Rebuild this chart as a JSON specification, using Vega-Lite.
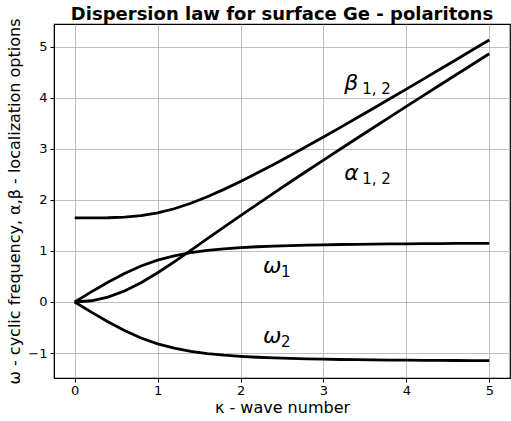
{
  "$schema": "https://vega.github.io/schema/vega-lite/v6.json",
  "width": 456,
  "height": 354,
  "autosize": {"type": "none"},
  "padding": {"left": 54, "top": 24, "right": 1, "bottom": 43},
  "background": "white",
  "title": {
    "text": "Dispersion law for surface Ge - polaritons",
    "font": "DejaVu Sans",
    "fontSize": 18,
    "fontWeight": "bold",
    "color": "black",
    "anchor": "middle",
    "frame": "group",
    "offset": -6
  },
  "config": {
    "view": {"stroke": "black", "strokeWidth": 1.2},
    "axis": {
      "labelFont": "DejaVu Sans",
      "labelFontSize": 13,
      "labelColor": "black",
      "titleFont": "DejaVu Sans",
      "titleFontSize": 16,
      "titleFontWeight": "normal",
      "titleColor": "black",
      "domainColor": "black",
      "tickColor": "black",
      "tickSize": 4,
      "gridColor": "#b0b0b0",
      "gridWidth": 0.8
    }
  },
  "datasets": {
    "curves": [
      {"k": 0.0, "w1": 0.0, "w2": 0.0, "a": 0.0, "b": 1.649},
      {"k": 0.2, "w1": 0.1985, "w2": -0.1985, "a": 0.0243, "b": 1.6494},
      {"k": 0.4, "w1": 0.3881, "w2": -0.3881, "a": 0.0969, "b": 1.6521},
      {"k": 0.6, "w1": 0.5596, "w2": -0.5596, "a": 0.2164, "b": 1.6634},
      {"k": 0.8, "w1": 0.7049, "w2": -0.7049, "a": 0.3782, "b": 1.6921},
      {"k": 1.0, "w1": 0.8197, "w2": -0.8197, "a": 0.5728, "b": 1.7459},
      {"k": 1.2, "w1": 0.9052, "w2": -0.9052, "a": 0.7879, "b": 1.8278},
      {"k": 1.4, "w1": 0.9666, "w2": -0.9666, "a": 1.0127, "b": 1.9354},
      {"k": 1.6, "w1": 1.0105, "w2": -1.0105, "a": 1.2405, "b": 2.0637},
      {"k": 1.8, "w1": 1.0422, "w2": -1.0422, "a": 1.4676, "b": 2.2077},
      {"k": 2.0, "w1": 1.0654, "w2": -1.0654, "a": 1.6926, "b": 2.3632},
      {"k": 2.2, "w1": 1.0829, "w2": -1.0829, "a": 1.9151, "b": 2.5273},
      {"k": 2.4, "w1": 1.0962, "w2": -1.0962, "a": 2.135, "b": 2.6978},
      {"k": 2.6, "w1": 1.1066, "w2": -1.1066, "a": 2.3528, "b": 2.8732},
      {"k": 2.8, "w1": 1.1149, "w2": -1.1149, "a": 2.5685, "b": 3.0524},
      {"k": 3.0, "w1": 1.1215, "w2": -1.1215, "a": 2.7825, "b": 3.2345},
      {"k": 3.2, "w1": 1.127, "w2": -1.127, "a": 2.995, "b": 3.4191},
      {"k": 3.4, "w1": 1.1315, "w2": -1.1315, "a": 3.2062, "b": 3.6055},
      {"k": 3.6, "w1": 1.1353, "w2": -1.1353, "a": 3.4163, "b": 3.7936},
      {"k": 3.8, "w1": 1.1385, "w2": -1.1385, "a": 3.6255, "b": 3.983},
      {"k": 4.0, "w1": 1.1412, "w2": -1.1412, "a": 3.8338, "b": 4.1735},
      {"k": 4.2, "w1": 1.1435, "w2": -1.1435, "a": 4.0413, "b": 4.3649},
      {"k": 4.4, "w1": 1.1456, "w2": -1.1456, "a": 4.2483, "b": 4.5572},
      {"k": 4.6, "w1": 1.1473, "w2": -1.1473, "a": 4.4546, "b": 4.7501},
      {"k": 4.8, "w1": 1.1489, "w2": -1.1489, "a": 4.6605, "b": 4.9437},
      {"k": 5.0, "w1": 1.1502, "w2": -1.1502, "a": 4.8659, "b": 5.1378}
    ],
    "labels": [
      {"x": 3.25, "y": 4.29, "main": "β", "sub": "1, 2"},
      {"x": 3.25, "y": 2.53, "main": "α", "sub": "1, 2"},
      {"x": 2.27, "y": 0.7, "main": "ω", "sub": "1"},
      {"x": 2.27, "y": -0.66, "main": "ω", "sub": "2"}
    ]
  },
  "layer": [
    {
      "data": {"name": "curves"},
      "transform": [{"fold": ["w1", "w2", "a", "b"], "as": ["series", "v"]}],
      "mark": {"type": "line", "color": "black", "strokeWidth": 2.8, "clip": true},
      "encoding": {
        "x": {
          "field": "k", "type": "quantitative",
          "scale": {"domain": [-0.25, 5.25], "nice": false, "zero": false},
          "axis": {"values": [0, 1, 2, 3, 4, 5], "format": "d", "title": "κ - wave number", "titlePadding": 2, "labelPadding": 2}
        },
        "y": {
          "field": "v", "type": "quantitative",
          "scale": {"domain": [-1.49, 5.45], "nice": false, "zero": false},
          "axis": {"values": [-1, 0, 1, 2, 3, 4, 5], "format": "d", "title": "ω - cyclic frequency, α,β - localization options", "titlePadding": 5, "labelPadding": 3}
        },
        "detail": {"field": "series"}
      }
    },
    {
      "data": {"name": "labels"},
      "mark": {"type": "text", "align": "left", "baseline": "middle", "font": "DejaVu Sans", "fontStyle": "italic", "fontSize": 22, "color": "black"},
      "encoding": {
        "x": {"field": "x", "type": "quantitative"},
        "y": {"field": "y", "type": "quantitative"},
        "text": {"field": "main"}
      }
    },
    {
      "data": {"name": "labels"},
      "mark": {"type": "text", "align": "left", "baseline": "middle", "font": "DejaVu Sans", "fontSize": 15, "color": "black", "dx": 18, "dy": 6},
      "encoding": {
        "x": {"field": "x", "type": "quantitative"},
        "y": {"field": "y", "type": "quantitative"},
        "text": {"field": "sub"}
      }
    }
  ]
}
